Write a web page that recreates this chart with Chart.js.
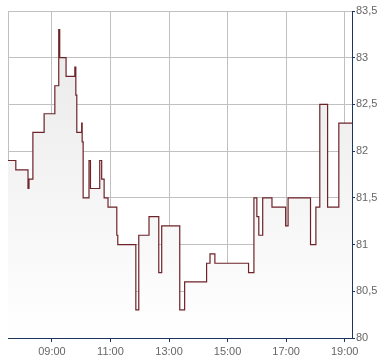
<!DOCTYPE html>
<html><head><meta charset="utf-8">
<script src="https://cdn.jsdelivr.net/npm/chart.js@4/dist/chart.umd.min.js"></script>
<style>html,body{margin:0;padding:0;background:#fff}#w{width:390px;height:364px}</style>
</head><body><div id="w"><canvas id="c"></canvas></div>
<script>
// times in minutes after midnight, value changes (stepped)
const times = [450,466,491,493,501,524,546,554,556,569,587,589,591,601,602,604,616,619,638,642,647,655,673,675,712,718,739,759,765,802,812,857,864,874,943,954,960,964,972,991,1019,1024,1070,1081,1089,1105,1128,1155];
const values = [81.9,81.8,81.6,81.7,82.2,82.4,82.7,83.3,83.0,82.8,82.9,82.6,82.2,82.3,82.1,81.5,81.9,81.6,81.9,81.7,81.5,81.4,81.1,81.0,80.3,81.1,81.3,80.7,81.2,80.3,80.6,80.8,80.9,80.8,80.7,81.5,81.3,81.1,81.5,81.4,81.2,81.5,81.0,81.4,82.5,81.4,82.3,82.3];
const xTicks = [540,660,780,900,1020,1140];
const yMin = 80, yMax = 83.5, yStep = 0.5;

const pts = times.map((t,i)=>({x:t,y:values[i]}));
const fmtTime = m => String(Math.floor(m/60)).padStart(2,'0')+':'+String(m%60).padStart(2,'0');

const frame = {id:'frame', beforeDatasetsDraw(ch){
  const a=ch.chartArea, c=ch.ctx; c.save(); c.strokeStyle='#c0c0c0'; c.lineWidth=1;
  c.beginPath(); c.moveTo(Math.round(a.left)+0.5,a.top); c.lineTo(Math.round(a.left)+0.5,a.bottom); c.stroke(); c.restore();
}};

new Chart(document.getElementById('c'),{
  type:'line',
  data:{datasets:[{data:pts, stepped:true, borderColor:'#6d2328', borderWidth:1.2, pointRadius:0,
    fill:'start',
    backgroundColor:(ctx)=>{const a=ctx.chart.chartArea; if(!a) return '#eee';
      const g=ctx.chart.ctx.createLinearGradient(0,a.top,0,a.bottom); g.addColorStop(0,'#e8e8e8'); g.addColorStop(1,'#ffffff'); return g;}
  }]},
  options:{responsive:true, maintainAspectRatio:false, animation:false,
    layout:{padding:{left:8,top:11,right:0,bottom:0}},
    plugins:{legend:{display:false},tooltip:{enabled:false}},
    scales:{
      x:{type:'linear', min:450, max:1155,
        afterBuildTicks:(s)=>{s.ticks=xTicks.map(v=>({value:v}));},
        afterFit:(s)=>{s.height=26;},
        ticks:{callback:v=>fmtTime(v), color:'#666', font:{family:'Liberation Sans, Arial, sans-serif', size:11}, padding:3, maxRotation:0, autoSkip:false},
        grid:{color:'#c0c0c0', tickColor:'#1d3461', tickLength:4},
        border:{color:'#1d3461', width:1}
      },
      y:{position:'right', min:yMin, max:yMax,
        afterFit:(s)=>{s.width=38;},
        ticks:{stepSize:yStep, callback:v=>String(v).replace('.',','), color:'#666', font:{family:'Liberation Sans, Arial, sans-serif', size:11}, padding:1},
        grid:{color:'#c0c0c0', tickColor:'#1d3461', tickLength:3},
        border:{color:'#1d3461', width:1}
      }
    }
  },
  plugins:[frame]
});
</script></body></html>
